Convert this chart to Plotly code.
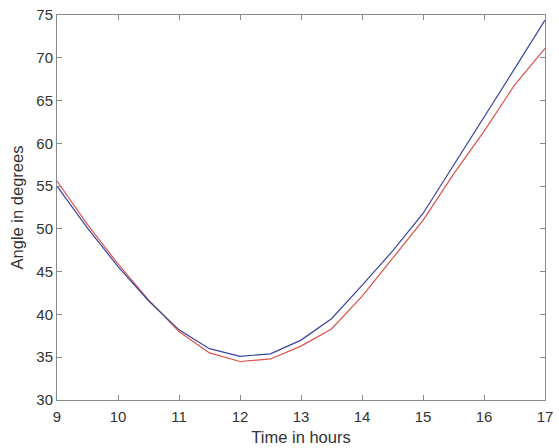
import plotly.graph_objects as go

hours = [9, 9.5, 10, 10.5, 11, 11.5, 12, 12.5, 13, 13.5, 14, 14.5, 15, 15.5, 16, 16.5, 17]
angle_blue = [55.0, 50.1, 45.6, 41.6, 38.2, 36.0, 35.1, 35.4, 37.0, 39.5, 43.4, 47.4, 51.8, 57.4, 63.1, 68.7, 74.4]
angle_red = [55.6, 50.5, 45.9, 41.7, 38.0, 35.5, 34.5, 34.8, 36.3, 38.3, 42.1, 46.6, 51.0, 56.4, 61.4, 66.8, 71.1]

x_ticks = [9, 10, 11, 12, 13, 14, 15, 16, 17]
y_ticks = [30, 35, 40, 45, 50, 55, 60, 65, 70, 75]

FONT = "Liberation Sans, Arial, sans-serif"

fig = go.Figure()
fig.add_trace(go.Scatter(x=hours, y=angle_red, mode="lines",
                         line=dict(color="#d9534a", width=1.2), showlegend=False))
fig.add_trace(go.Scatter(x=hours, y=angle_blue, mode="lines",
                         line=dict(color="#3a44a0", width=1.2), showlegend=False))

axis_common = dict(showline=True, linecolor="#8a8a8a", linewidth=1, mirror="ticks",
                   ticks="inside", ticklen=5, tickcolor="#8a8a8a", showgrid=False,
                   zeroline=False, automargin=False,
                   tickfont=dict(family=FONT, size=15, color="#333333"))

fig.update_layout(
    width=559, height=448,
    margin=dict(l=57, r=14, t=15, b=48),
    paper_bgcolor="white", plot_bgcolor="white",
    xaxis=dict(range=[9, 17], tickvals=x_ticks, ticklabelstandoff=3,
               title=dict(text="Time in hours", standoff=7,
                          font=dict(family=FONT, size=16.5, color="#333333")),
               **axis_common),
    yaxis=dict(range=[30, 75], tickvals=y_ticks,
               title=dict(text="Angle in degrees", standoff=8,
                          font=dict(family=FONT, size=16.5, color="#333333")),
               **axis_common),
)

fig.write_html("out.html", config={"displayModeBar": False},
               post_script="document.body.style.margin='0px';")
